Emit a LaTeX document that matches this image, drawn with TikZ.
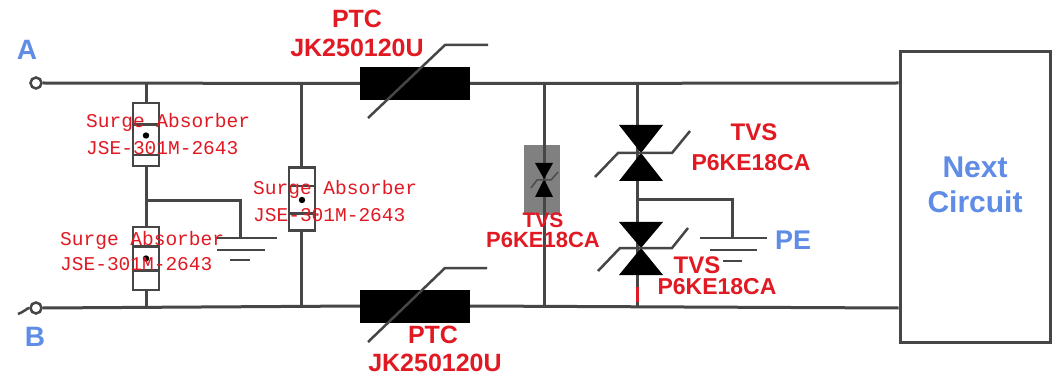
\documentclass[tikz,border=0pt]{standalone}
\usepackage{fontspec}
\setmainfont{Liberation Sans}
\newfontfamily\monofont{Liberation Mono}
\usetikzlibrary{calc}
\definecolor{wirec}{RGB}{70,70,70}
\definecolor{redc}{RGB}{225,25,35}
\definecolor{bluec}{RGB}{95,140,230}
\definecolor{grayc}{RGB}{128,128,128}
\begin{document}
\begin{tikzpicture}[x=1pt,y=-1pt,
 wire/.style={draw=wirec,line width=3pt},
 thinw/.style={draw=wirec,line width=2.5pt},
 term/.style={circle,draw=wirec,line width=2.5pt,minimum size=11pt,inner sep=0pt,fill=white},
 surge/.style={rectangle,draw=wirec,line width=2.5pt,fill=white,minimum width=26pt,minimum height=63pt,inner sep=0pt},
 ptc/.style={rectangle,fill=black,minimum width=110pt,minimum height=33pt,inner sep=0pt},
 redlbl/.style={text=redc,font=\bfseries\fontsize{24}{24}\selectfont,inner sep=0pt},
 partlbl/.style={text=redc,font=\bfseries\fontsize{23}{23}\selectfont,inner sep=0pt},
 monolbl/.style={text=redc,font=\monofont\fontsize{19.5}{19.5}\selectfont,inner sep=0pt,anchor=base west},
 bluelbl/.style={text=bluec,font=\bfseries\fontsize{28}{28}\selectfont,inner sep=0pt},
 tvsfill/.style={fill=black},
]
\useasboundingbox[fill=white] (0,0) rectangle (1059,379);

% terminals and box
\node[term] (A) at (36,83) {};
\node[term] (B) at (36,308) {};
\node[draw=wirec,line width=3pt,minimum width=150pt,minimum height=290pt,inner sep=0pt] (NC) at (975,197) {};

% PTCs
\node[ptc] (P1) at (415,83.5) {};
\node[ptc] (P2) at (415,306) {};
\draw[thinw] (368,118) -- (445,45) -- (488,45);
\draw[thinw] (368,342) -- (445,268) -- (487,268);

% main wires
\draw[wire] (A.east) -- (P1.west);
\draw[wire] (P1.east) -- (NC.west |- A);
\draw[wire] (B.east) -- (P2.west);
\draw[wire] (P2.east) -- (NC.west |- B);
\draw[thinw] (B.west) .. controls (27,308) and (24,312) .. (18,314);

% junction coordinates
\coordinate (J1t) at (146,83);  \coordinate (J1b) at (146,308); \coordinate (J1m) at (146,201);
\coordinate (J2t) at (301,83);  \coordinate (J2b) at (301,308);
\coordinate (J3t) at (544,83);  \coordinate (J3b) at (544,308);
\coordinate (J4t) at (637,83);  \coordinate (J4b) at (637,308); \coordinate (J4m) at (637,200);
\coordinate (G1) at (240,238);  \coordinate (G2) at (732,238);

% surge absorbers
\draw[wire] (J1t) -- (J1b);
\draw[wire] (J1m) -| (G1);
\draw[wire] (J2t) -- (J2b);
\node[surge] (S1) at (146,134.5) {};
\node[surge] (S2) at (146,258.5) {};
\node[surge] (S3) at (302,199) {};
\draw[thinw] ($(S1.north west)+(0,23)$) -- ($(S1.north east)+(0,23)$);
\draw[thinw] ($(S1.south west)+(0,-12)$) -- ($(S1.south east)+(0,-12)$);
\fill[black] ($(S1.center)+(0,1)$) circle (3.2);
\draw[thinw] ($(S2.north west)+(0,21)$) -- ($(S2.north east)+(0,21)$);
\draw[thinw] ($(S2.south west)+(0,-21)$) -- ($(S2.south east)+(0,-21)$);
\fill[black] ($(S2.center)+(0,0)$) circle (3.2);
\draw[thinw] ($(S3.north west)+(0,20)$) -- ($(S3.north east)+(0,20)$);
\draw[thinw] ($(S3.south west)+(0,-18)$) -- ($(S3.south east)+(0,-18)$);
\fill[black] ($(S3.center)+(0,1)$) circle (3.2);

% grounds
\foreach \g in {G1}{
 \draw[thinw] ($(\g)+(-23,0)$) -- ($(\g)+(37,0)$);
 \draw[thinw] ($(\g)+(-23,12)$) -- ($(\g)+(25,12)$);
 \draw[thinw] ($(\g)+(-10,22)$) -- ($(\g)+(10,22)$);
}
\draw[thinw] ($(G2)+(-32,0)$) -- ($(G2)+(35,0)$);
\draw[thinw] ($(G2)+(-22,12)$) -- ($(G2)+(25,12)$);
\draw[thinw] ($(G2)+(-9,23)$) -- ($(G2)+(10,23)$);

% small TVS
\node[fill=grayc,minimum width=36pt,minimum height=70pt,inner sep=0pt] (TS) at (542,180) {};
\draw[wire] (J3t) -- (J3b);
\coordinate (T0) at (544,179);
\fill[tvsfill] ($(T0)+(-9,-16)$) -- ($(T0)+(9,-16)$) -- (T0) -- cycle;
\fill[tvsfill] ($(T0)+(-9,18)$) -- ($(T0)+(9,18)$) -- (T0) -- cycle;
\draw[draw=black!70,line width=1.5pt] ($(T0)+(-13,9)$) -- ($(T0)+(-7,1)$) -- ($(T0)+(7,1)$) -- ($(T0)+(14,-7)$);

% large TVS pair
\draw[wire] (J4t) -- (J4b);
\draw[wire] (J4m) -| (G2);
\coordinate (T1) at (641,153);
\coordinate (T2) at (641,248);
\fill[tvsfill] ($(T1)+(-22,-28)$) -- ($(T1)+(22,-28)$) -- (T1) -- cycle;
\fill[tvsfill] ($(T1)+(-22,28)$) -- ($(T1)+(22,28)$) -- (T1) -- cycle;
\draw[thinw] (595,177) -- (618,153) -- (672,153) -- (690,131);
\fill[tvsfill] ($(T2)+(-22,-26)$) -- ($(T2)+(22,-26)$) -- (T2) -- cycle;
\fill[tvsfill] ($(T2)+(-22,27)$) -- ($(T2)+(22,27)$) -- (T2) -- cycle;
\draw[thinw] (598,271) -- (620,248) -- (672,248) -- (688,228);
\draw[draw=redc,line width=3pt] (637,287) -- (637,302);

% labels
\node[bluelbl] (lA) at (27,50) {A};
\node[bluelbl] (lB) at (35,337) {B};
\node[bluelbl,font=\bfseries\fontsize{27}{27}\selectfont] (lPE) at (793,240) {PE};
\node[bluelbl,font=\bfseries\fontsize{30}{30}\selectfont] (lN1) at (975,167) {Next};
\node[bluelbl,font=\bfseries\fontsize{30}{30}\selectfont] (lN2) at (975,202) {Circuit};

\node[redlbl,font=\bfseries\fontsize{25}{25}\selectfont] (p1a) at (357,19) {PTC};
\node[redlbl,font=\bfseries\fontsize{25}{25}\selectfont] (p1b) at (357,48) {JK250120U};
\node[redlbl,font=\bfseries\fontsize{25}{25}\selectfont] (p2a) at (433,335) {PTC};
\node[redlbl,font=\bfseries\fontsize{25}{25}\selectfont] (p2b) at (435,363) {JK250120U};

\node[redlbl] (t1a) at (754,132) {TVS};
\node[partlbl] (t1b) at (751,163) {P6KE18CA};
\node[redlbl] (t2a) at (697,265) {TVS};
\node[partlbl] (t2b) at (717,287) {P6KE18CA};
\node[redlbl,font=\bfseries\fontsize{21}{21}\selectfont] (t0a) at (543,220) {TVS};
\node[partlbl,font=\bfseries\fontsize{22}{22}\selectfont] (t0b) at (543,240) {P6KE18CA};

\node[monolbl] (s1a) at (86,128) {Surge Absorber};
\node[monolbl] (s1b) at (86,155) {JSE-301M-2643};
\node[monolbl] (s2a) at (60,245) {Surge Absorber};
\node[monolbl] (s2b) at (60,270) {JSE-301M-2643};
\node[monolbl] (s3a) at (253,195) {Surge Absorber};
\node[monolbl] (s3b) at (253,222) {JSE-301M-2643};
\end{tikzpicture}
\end{document}
